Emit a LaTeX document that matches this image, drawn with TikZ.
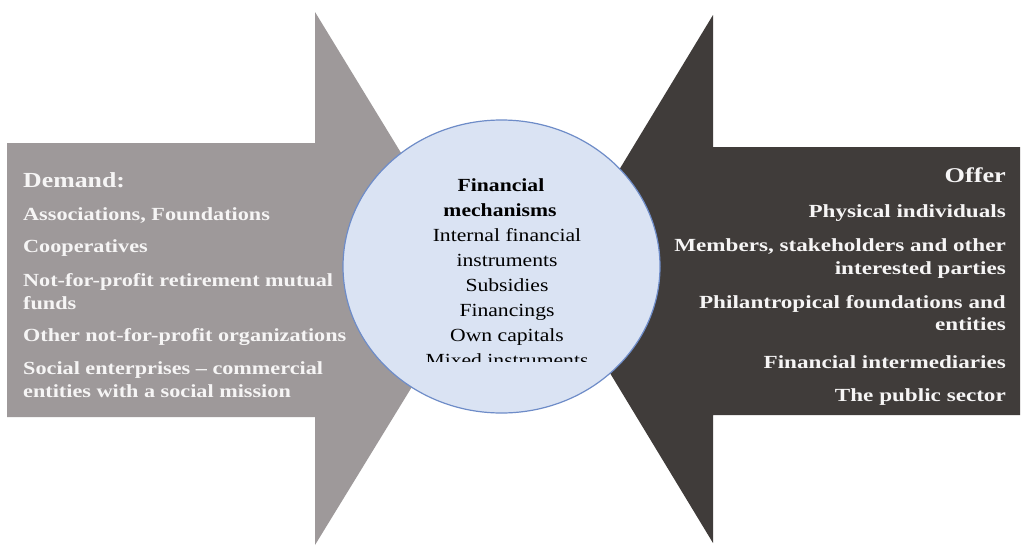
\documentclass[tikz,border=0pt]{standalone}
\usepackage{fontspec}
\setmainfont{Liberation Serif}
\newfontfamily\sidefont[FakeStretch=1.25]{Liberation Serif}
\newfontfamily\leftfont[FakeStretch=1.2]{Liberation Serif}
\newfontfamily\midfont[FakeStretch=1.17]{Liberation Serif}
\usetikzlibrary{shapes.geometric}
\definecolor{demandgray}{RGB}{158,153,154}
\definecolor{offerdark}{RGB}{64,60,58}
\definecolor{mechfill}{RGB}{218,227,243}
\definecolor{mechline}{RGB}{110,140,200}
\definecolor{sidewhite}{RGB}{246,245,245}
\begin{document}
\begin{tikzpicture}[x=1pt,y=-1pt,
  sidetxt/.style={text=sidewhite, font=\sidefont\bfseries\fontsize{18.5}{22}\selectfont, inner sep=0pt},
  sidehead/.style={sidetxt, font=\sidefont\bfseries\fontsize{21}{24}\selectfont},
  lefttxt/.style={sidetxt, font=\leftfont\bfseries\fontsize{18.5}{22}\selectfont, anchor=base west},
  lefthead/.style={sidehead, font=\leftfont\bfseries\fontsize{21.5}{24}\selectfont, anchor=base west},
  righttxt/.style={sidetxt, anchor=base east},
  righthead/.style={sidehead, anchor=base east},
  midtxt/.style={text=black, font=\midfont\fontsize{18.5}{22}\selectfont, inner sep=0pt, anchor=base},
  midhead/.style={midtxt, font=\midfont\bfseries\fontsize{18.5}{22}\selectfont},
  mechcircle/.style={ellipse, draw=mechline, fill=mechfill, line width=1.2pt, inner sep=0pt,
    minimum width=317pt, minimum height=293pt}]
\fill[white] (0,0) rectangle (1022,546);
\useasboundingbox (0,0) rectangle (1022,546);

% Demand arrow (left, pointing right)
\fill[demandgray] (7,143) -- (315,143) -- (315,12) -- (478,279) -- (315,545) -- (315,417) -- (7,417) -- cycle;
% Offer arrow (right, pointing left)
\fill[offerdark] (1020,147) -- (713,147) -- (713,15) -- (553,279) -- (713,543) -- (713,415) -- (1020,415) -- cycle;

% Demand texts
\node[lefthead] (dtitle) at (23,187) {Demand:};
\node[lefttxt] (d1) at (23,220) {Associations, Foundations};
\node[lefttxt] (d2) at (23,252) {Cooperatives};
\node[lefttxt] (d3a) at (23,286) {Not-for-profit retirement mutual};
\node[lefttxt] (d3b) at (23,309) {funds};
\node[lefttxt] (d4) at (23,341) {Other not-for-profit organizations};
\node[lefttxt] (d5a) at (23,374) {Social enterprises – commercial};
\node[lefttxt] (d5b) at (23,397) {entities with a social mission};

% Offer texts
\node[righthead] (otitle) at (1006,182) {Offer};
\node[righttxt] (o1) at (1006,217) {Physical individuals};
\node[righttxt] (o2a) at (1006,251) {Members, stakeholders and other};
\node[righttxt] (o2b) at (1006,274) {interested parties};
\node[righttxt] (o3a) at (1006,308) {Philantropical foundations and};
\node[righttxt] (o3b) at (1006,330) {entities};
\node[righttxt] (o4) at (1006,368) {Financial intermediaries};
\node[righttxt] (o5) at (1006,401) {The public sector};

% Central ellipse
\node[mechcircle] (mech) at (501.5,266.5) {};
\node[midhead] (m0a) at (501,191) {Financial};
\node[midhead] (m0b) at (500,216) {mechanisms};
\node[midtxt] (m1a) at (507,241) {Internal financial};
\node[midtxt] (m1b) at (507,266) {instruments};
\node[midtxt] (m2) at (507,291) {Subsidies};
\node[midtxt] (m3) at (507,316) {Financings};
\node[midtxt] (m4) at (507,341) {Own capitals};
\begin{scope}
  \clip (400,345) rectangle (620,361);
  \node[midtxt] (m5) at (507,366) {Mixed instruments};
\end{scope}
\end{tikzpicture}
\end{document}
